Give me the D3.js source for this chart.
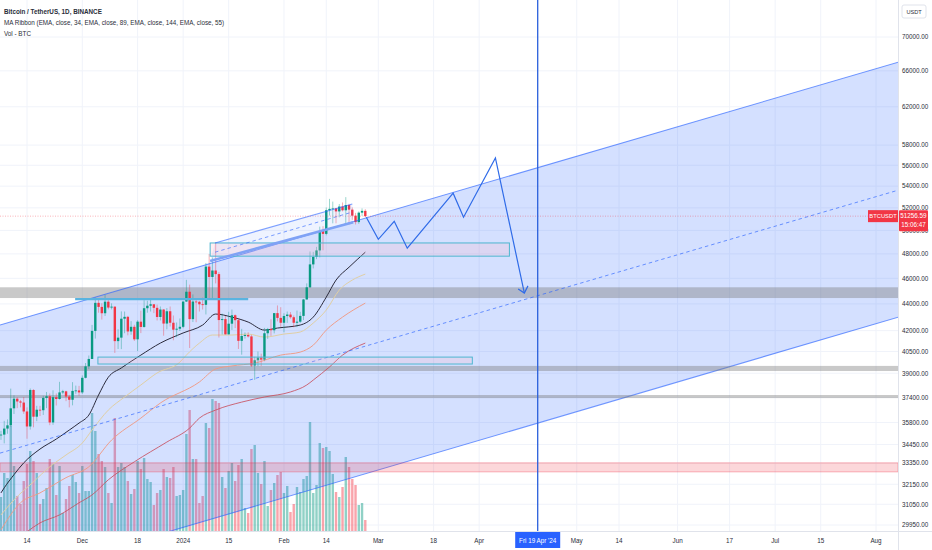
<!DOCTYPE html>
<html><head><meta charset="utf-8">
<script src="https://d3js.org/d3.v7.min.js"></script>
<style>html,body{margin:0;padding:0;background:#fff}svg{display:block}text{font-family:"Liberation Sans",Arial,sans-serif}</style>
</head><body><svg id="c" width="932" height="550"></svg>
<script>
// days counted from 14 Nov 2023; candles start 6 Nov 2023
const firstDay=-8;
const open=[35040,35050,35420,35620,36690,37310,37130,37060,36490,35550,37880,36160,36600,36570,37360,37470,35800,37410,37290,37720,37790,37450,37240,37820,37850,37720,38690,39470,39980,41980,44080,43770,43290,44170,43720,43790,41240,41490,42880,43020,41940,42280,41370,42660,42270,43670,43860,43970,43700,43010,43570,42520,43440,42580,42070,42140,42280,44180,44940,42850,44180,44160,43970,43930,46950,46110,46630,46340,42780,42850,41730,42510,43140,42770,41260,41610,41680,41580,39530,39890,40080,39930,41810,42120,42030,43300,42940,42580,43080,43190,42990,42580,42660,43090,44340,45290,47130,47750,48290,49960,49700,51790,51910,51950,51680,52120,51780,52260,51840,51300,50730,51570,51730];
const close=[35050,35420,35620,36690,37310,37130,37060,36490,35550,37880,36160,36600,36570,37360,37470,35800,37410,37290,37720,37790,37450,37240,37820,37850,37720,38690,39470,39980,41980,44080,43770,43290,44170,43720,43790,41240,41490,42880,43020,41940,42280,41370,42660,42270,43670,43860,43970,43700,43010,43570,42520,43440,42580,42070,42140,42280,44180,44940,42850,44180,44160,43970,43930,46950,46110,46630,46340,42780,42850,41730,42510,43140,42770,41260,41610,41680,41580,39530,39890,40080,39930,41810,42120,42030,43300,42940,42580,43080,43190,42990,42580,42660,43090,44340,45290,47130,47750,48290,49960,49700,51790,51910,51950,51680,52120,51780,52260,51840,51300,50730,51570,51730,51256];
const high=[35280,35900,35990,37970,37530,37400,37230,37420,36750,37980,37930,36850,36850,37500,37750,37650,37860,37650,38420,37890,37830,37560,38400,38170,38150,38850,39700,40220,42420,44490,44300,44050,44700,44370,44040,43800,42100,43430,43420,43090,42700,42430,42770,43480,44280,44240,44370,43950,43950,43800,43600,43680,43800,43120,42600,42900,44180,45880,45500,44730,44350,44230,44480,47250,47990,47700,48970,46500,43260,43080,43400,43570,43200,42930,42130,41870,41880,41690,40130,40500,40350,42200,42200,42840,43300,43880,43750,43290,43420,43380,43120,43490,43400,44380,45600,48200,48170,48590,50330,50370,52040,52820,52570,52000,52350,52490,52980,52370,52040,51550,51680,51950,51880];
const low=[34730,34520,35100,35550,36330,36700,36750,36340,34800,35360,35500,35880,36200,36270,36700,35630,35650,36870,37250,37600,37150,36750,36880,37630,37500,37620,38650,39280,39980,41420,43330,42820,43080,43580,43580,40400,40680,40670,41810,41660,41700,41250,40530,41820,42210,43330,43420,43300,42750,42750,41630,42100,42300,41300,41520,41970,42180,44150,40750,42630,42620,43420,43570,43200,44300,44300,45600,41500,41720,41720,41720,42050,42190,40680,40280,41420,41500,39430,38550,39480,39500,39820,41400,41620,41800,42680,42280,41880,42570,42880,42250,42260,42570,42780,44330,45240,46800,47560,47710,48300,49570,51310,50620,50620,51150,51680,50625,50520,50930,50520,50580,51280,51170];
const volume=[34,58,53,105,65,35,27,50,67,80,70,58,27,32,43,72,67,36,65,18,32,45,56,49,38,65,40,40,118,100,77,70,64,38,28,113,64,68,64,50,37,42,70,62,73,52,49,26,38,41,62,54,53,64,35,36,41,97,121,72,72,28,35,108,103,132,130,128,54,43,60,68,50,66,72,23,18,82,86,58,47,70,25,41,48,56,59,38,45,19,27,44,39,52,55,109,38,46,88,83,84,80,57,39,34,44,74,64,52,46,26,28,11];

const ema34Days=[-8,-7,-4,-1,4,9,13,16,19,22,25,29,35,41,48,54,58,63,68,73,77,84,88,92,95,99,104];
const ema34=[31670,31950,32690,33370,34180,34780,35330,35760,36260,37550,38730,39360,40250,41100,41830,42410,43230,43000,42630,42040,42190,42410,43000,44520,45860,46900,48140];
const ema89Days=[-8,-4,2,7,12,17,20,25,30,35,40,47,49,53,57,63,68,73,79,84,88,92,96,100,104];
const ema89=[30480,31290,32290,33140,33830,34540,35330,36580,37420,38210,39020,39760,40250,41100,41680,41680,41750,41530,41750,41900,42560,43530,45070,45860,46340];
const ema144Days=[-8,-2,4,12,19,26,35,41,53,58,63,70,78,84,88,92,97,104];
const ema144=[29700,31130,31670,32520,33140,34720,36070,37030,38410,39290,39500,39690,40250,40460,40950,42040,43000,44060];
const ema55Days=[0,4,10,16,20,25,33,43,50,53,58,66,73,81,86,88,93,97,104];
const ema55=[29600,30060,30480,31130,31560,32400,33430,34600,35450,36070,36580,37090,37420,37750,38210,38540,39430,40250,41100];

const priceTicks=[70000,66000,62000,58000,56000,54000,52000,50000,48000,46000,44000,42000,40500,39000,37400,35800,34450,33350,32150,31050,29950];
const timeTickDays=[0,17,34,48,62,79,92,108,125,139,169,182,200,216,230,244,261];
const timeTickLabels=['14','Dec','18','2024','15','Feb','14','Mar','18','Apr','May','14','Jun','17','Jul','15','Aug'];

const channelDays=[-8.3,268];
const channelUpper=[42410,67020];
const channelMiddle=[33940,53640];
const channelLower=[27160,43010];
const miniDays=[57.8,100];
const miniUpper=[48920,52350];
const miniMiddle=[48140,51620];
const miniLowerDays=[56.3,100.3];
const miniLower=[47400,50710];
const boxes=[{d:[56.3,148.3],p:[48920,47810]},{d:[21.8,136.9],p:[40110,39630]}];
const resistanceDays=[14.8,68];
const resistance=44370;
const grayBands=[[45290,44450],[39500,39150],[37550,37350]];
const redBand=[33370,32850];
const waveDays=[104.3,108,112.9,116.9,131,134.2,144,152.9];
const wave=[51160,49230,50800,48480,53340,51160,56714,44840];
const arrowDays=[151,152.9,154];
const arrowPrices=[45150,44840,45400];
const markerDay=157;
const lastPrice=51256.59;
const legend=['Bitcoin / TetherUS, 1D, BINANCE','MA Ribbon (EMA, close, 34, EMA, close, 89, EMA, close, 144, EMA, close, 55)','Vol - BTC'];

const W=898,H=531;
const x=d3.scaleLinear().domain([0,261]).range([27,876]);
const y=d3.scaleLog().domain([70000,29950]).range([37,525]);
const v=d3.scaleLinear().domain([0,132]).range([H,H-132]);
const svg=d3.select('#c');
svg.append('defs').append('clipPath').attr('id','plot').append('rect').attr('width',W).attr('height',H);
const UP='#089981',DN='#f23645',BLUE='#2962ff',TXT='#2a2e39';

const grid=svg.append('g').attr('stroke','#f0f3fa').attr('stroke-width',1);
grid.selectAll('.h').data(priceTicks).join('line').attr('x1',0).attr('x2',W).attr('y1',d=>y(d)).attr('y2',d=>y(d));
grid.selectAll('.v').data(timeTickDays).join('line').attr('y1',0).attr('y2',H).attr('x1',d=>x(d)).attr('x2',d=>x(d));

const plot=svg.append('g').attr('clip-path','url(#plot)');
const days=close.map((_,i)=>firstDay+i);
plot.append('g').selectAll('rect').data(days).join('rect')
 .attr('x',d=>x(d)-1.2).attr('width',2.4)
 .attr('y',(d,i)=>v(volume[i])).attr('height',(d,i)=>H-v(volume[i]))
 .attr('fill',(d,i)=>close[i]>=open[i]?UP:DN).attr('fill-opacity',.45);

const line=d3.line().x(d=>x(d[0])).y(d=>y(d[1]));
const pts=(ds,a)=>ds.map((d,i)=>[d,a[i]]);

// main channel
plot.append('path').attr('d',line([...pts(channelDays,channelUpper),...pts(channelDays,channelLower).reverse()])+'Z')
 .attr('fill',BLUE).attr('fill-opacity',.2);
plot.append('path').attr('d',line(pts(channelDays,channelLower))).attr('fill','none').attr('stroke',BLUE).attr('stroke-opacity',.65).attr('stroke-width',1.1);

// bands
plot.append('g').selectAll('rect').data(grayBands).join('rect').attr('x',0).attr('width',W)
 .attr('y',d=>y(d[0])).attr('height',d=>y(d[1])-y(d[0])).attr('fill','#787878').attr('fill-opacity',.4);
plot.append('rect').attr('x',0).attr('width',W).attr('y',y(redBand[0])).attr('height',y(redBand[1])-y(redBand[0]))
 .attr('fill',DN).attr('fill-opacity',.2).attr('stroke',DN).attr('stroke-opacity',.35).attr('stroke-width',1);

// ribbon
[[ema55Days,ema55,'#c8505f',.85],[ema144Days,ema144,'#ef9a85',.95],[ema89Days,ema89,'#e0cfa4',1],[ema34Days,ema34,'#2b2b3d',1]].forEach(([ds,vs,c,o])=>{
 plot.append('path').attr('d',d3.line().x(d=>x(d[0])).y(d=>y(d[1])).curve(d3.curveMonotoneX)(ds.map((d,i)=>[d,vs[i]])))
  .attr('fill','none').attr('stroke',c).attr('stroke-opacity',o).attr('stroke-width',1);
});

const candles=plot.append('g');
candles.selectAll('line').data(days).join('line')
 .attr('x1',d=>x(d)).attr('x2',d=>x(d)).attr('y1',(d,i)=>y(high[i])).attr('y2',(d,i)=>y(low[i]))
 .attr('stroke',(d,i)=>close[i]>=open[i]?UP:DN).attr('stroke-opacity',.5).attr('stroke-width',.8);
candles.selectAll('rect').data(days).join('rect')
 .attr('x',d=>x(d)-1.2).attr('width',2.4)
 .attr('y',(d,i)=>y(Math.max(open[i],close[i])))
 .attr('height',(d,i)=>Math.max(.8,Math.abs(y(open[i])-y(close[i]))))
 .attr('fill',(d,i)=>close[i]>=open[i]?UP:DN);

plot.append('path').attr('d',line(pts(channelDays,channelUpper))).attr('fill','none').attr('stroke',BLUE).attr('stroke-opacity',.65).attr('stroke-width',1.1);
plot.append('path').attr('d',line(pts(channelDays,channelMiddle))).attr('fill','none').attr('stroke',BLUE).attr('stroke-opacity',.65).attr('stroke-width',1).attr('stroke-dasharray','3.5 3');

// boxes
plot.append('g').selectAll('rect').data(boxes).join('rect')
 .attr('x',d=>x(d.d[0])).attr('width',d=>x(d.d[1])-x(d.d[0])).attr('y',d=>y(d.p[0])).attr('height',d=>y(d.p[1])-y(d.p[0]))
 .attr('fill','#ffb0c0').attr('fill-opacity',.2).attr('stroke','#4db6d0').attr('stroke-width',1);
plot.append('line').attr('x1',x(resistanceDays[0])).attr('x2',x(resistanceDays[1])).attr('y1',y(resistance)).attr('y2',y(resistance))
 .attr('stroke','#5ab4e0').attr('stroke-width',2.4);

// mini channel
plot.append('path').attr('d',line([...pts(miniDays,miniUpper),...pts(miniLowerDays,miniLower).reverse()])+'Z').attr('fill',BLUE).attr('fill-opacity',.08);
plot.append('path').attr('d',line(pts(miniDays,miniUpper))).attr('fill','none').attr('stroke',BLUE).attr('stroke-opacity',.6).attr('stroke-width',1.1);
plot.append('path').attr('d',line(pts(miniDays,miniMiddle))).attr('fill','none').attr('stroke',BLUE).attr('stroke-opacity',.6).attr('stroke-width',1).attr('stroke-dasharray','3.5 3');
plot.append('path').attr('d',line(pts(miniLowerDays,miniLower))).attr('fill','none').attr('stroke','#7fa2f5').attr('stroke-width',2.6);

// last price line
plot.append('line').attr('x1',0).attr('x2',W).attr('y1',y(lastPrice)).attr('y2',y(lastPrice))
 .attr('stroke',DN).attr('stroke-opacity',.55).attr('stroke-width',.7).attr('stroke-dasharray','1 1.5');

// wave + arrow
plot.append('path').attr('d',line(pts(waveDays,wave))).attr('fill','none').attr('stroke','#2f6be8').attr('stroke-width',1.2);
plot.append('path').attr('d',line(pts(arrowDays,arrowPrices))).attr('fill','none').attr('stroke','#2f6be8').attr('stroke-width',1.2);

// vertical marker
svg.append('line').attr('x1',x(markerDay)).attr('x2',x(markerDay)).attr('y1',0).attr('y2',H).attr('stroke','#2a5fdc').attr('stroke-width',1.3);

// axes frame
svg.append('line').attr('x1',W+.5).attr('x2',W+.5).attr('y1',0).attr('y2',550).attr('stroke','#e0e3eb');
svg.append('line').attr('x1',0).attr('x2',932).attr('y1',H+.5).attr('y2',H+.5).attr('stroke','#e0e3eb');

const fs=6.3;
svg.append('g').selectAll('text').data(priceTicks).join('text').attr('x',902).attr('y',d=>y(d)+2.3)
 .attr('font-size',fs).attr('fill',TXT).text(d=>d3.format('.2f')(d));
svg.append('g').selectAll('text').data(timeTickDays).join('text').attr('x',d=>x(d)).attr('y',542.5)
 .attr('text-anchor','middle').attr('font-size',fs).attr('fill',TXT).text((d,i)=>timeTickLabels[i]);

// marker label
const mx=x(markerDay);
svg.append('rect').attr('x',mx-22.5).attr('y',532).attr('width',45).attr('height',16).attr('fill','#2962ff');
svg.append('text').attr('x',mx).attr('y',542.5).attr('text-anchor','middle').attr('font-size',fs).attr('fill','#fff').text("Fri 19 Apr '24");

// price labels
const py=y(lastPrice);
svg.append('rect').attr('x',868).attr('y',py-6).attr('width',30).attr('height',12).attr('fill',DN);
svg.append('text').attr('x',883).attr('y',py+2.2).attr('text-anchor','middle').attr('font-size',5.8).attr('fill','#fff').text('BTCUSDT');
svg.append('rect').attr('x',899).attr('y',py-6).attr('width',29).attr('height',21).attr('rx',1).attr('fill',DN);
svg.append('text').attr('x',913.5).attr('y',py+2.3).attr('text-anchor','middle').attr('font-size',fs).attr('fill','#fff').text(d3.format('.2f')(lastPrice));
svg.append('text').attr('x',913.5).attr('y',py+11.3).attr('text-anchor','middle').attr('font-size',fs).attr('fill','#fff').text('15:06:47');

// USDT
svg.append('rect').attr('x',902).attr('y',5).attr('width',24).attr('height',13).attr('rx',2).attr('fill','#fff').attr('stroke','#e0e3eb');
svg.append('text').attr('x',914).attr('y',13.6).attr('text-anchor','middle').attr('font-size',5.6).attr('fill',TXT).text('USDT');

// legend
svg.append('g').selectAll('text').data(legend).join('text').attr('x',4).attr('y',(d,i)=>13.5+i*11)
 .attr('font-size',fs).attr('font-weight',(d,i)=>i?400:700).attr('fill',TXT).text(d=>d);
</script></body></html>
